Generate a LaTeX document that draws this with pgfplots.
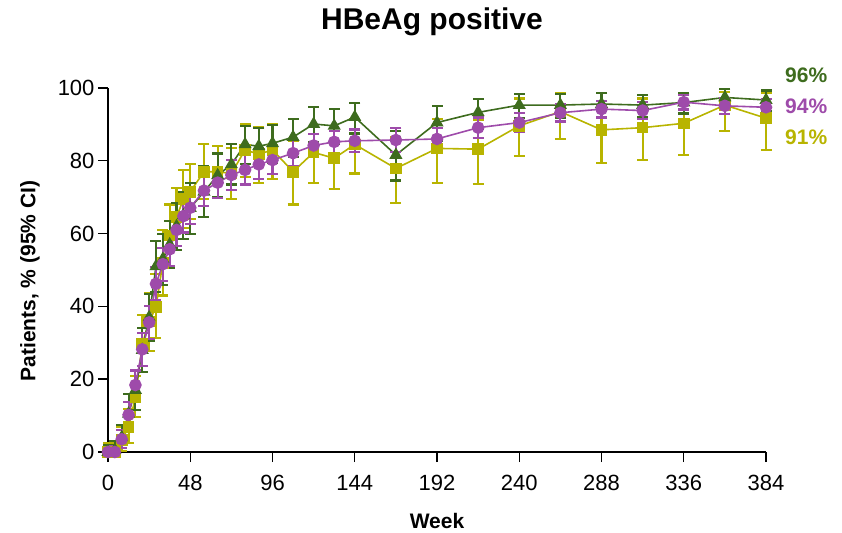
\documentclass[border=0pt]{standalone}
\usepackage{pgfplots}
\pgfplotsset{compat=1.18}
\usepackage{fontspec}
\setmainfont{Liberation Sans}

\definecolor{grn}{RGB}{62,108,30}
\definecolor{prp}{RGB}{158,75,170}
\definecolor{yel}{RGB}{184,180,0}

% week, value, CI upper (+), CI lower (-)
\pgfplotstableread{
w y ep em
0 0 2.5 0
4 0 2.5 0
8 3.3 3.5 3.0
12 6.9 5 4.5
16 15.0 6 5.5
20 29.6 8 7.5
24 35.8 8 8
28 39.8 9 8.5
32 52.0 9 9
36 59.5 8.5 8.5
40 64.5 8 8
44 69.5 8 8
48 71.5 7.5 7.5
56 77.0 7.5 7.5
64 77.0 7 7
72 76.5 7 7
80 83.0 7.0 7.5
88 81.8 7.5 8
96 83.0 7 8
108 77.0 8.5 9
120 82.3 7 8.5
132 80.7 7.5 8.5
144 84.5 7 8
168 77.9 8.5 9.5
192 83.4 8 9.5
216 83.2 8 9.5
240 89.6 7.5 8.3
264 93.5 5 7.5
288 88.5 8 9
312 89.1 8 9
336 90.3 8 8.7
360 95.3 3.5 7
384 91.7 7 8.7
}\yeldata

\pgfplotstableread{
w y ep em
0 0 2 0
4 0.5 2.5 0.5
8 4 3.5 3
12 10.5 5.5 5
16 17 5.5 5.5
20 28 6 6
24 37 6.5 6.5
28 51 7 7
32 53 7 7
36 57 6.5 6.5
40 62 6.5 6.5
44 65 6.5 6.5
48 67 7 7
56 71.5 7 7
64 76 6 6
72 79 5.5 5.5
80 84.5 5 5.5
88 84 5 5.5
96 84.8 5 5.5
108 86.5 5 5.5
120 90.1 4.6 5
132 89.6 4.6 5
144 92.0 4 4.5
168 81.6 6.5 7
192 90.5 4.5 5
216 93.3 3.7 4.5
240 95.3 3 3.5
264 95.3 3 3.5
288 95.6 3 3.5
312 95.3 2.8 3.2
336 96.0 2.7 3
360 97.4 2.3 2.8
384 96.7 2.6 3
}\grndata

\pgfplotstableread{
w y ep em
0 0 1 0
4 0 1.5 0
8 3.5 2.5 2.5
12 10.2 3.5 3.5
16 18.4 4 4
20 28.2 4.5 4.5
24 35.6 4.5 4.5
28 46.2 4.5 4.5
32 51.6 4.5 4.5
36 55.7 4.5 4.5
40 61.0 4.5 4.5
44 64.8 4.5 4.5
48 67.1 4.5 4.5
56 71.8 4.3 4.3
64 74.0 4.2 4.2
72 76.1 4 4
80 77.5 4 4
88 79.0 4 4
96 80.2 3.8 3.8
108 82.1 3.5 3.5
120 84.2 3.2 3.2
132 85.2 3.1 3.1
144 85.5 3.1 3.1
168 85.7 3.2 3.2
192 86.0 3 3
216 89.1 2.8 2.8
240 90.5 2.7 2.7
264 93.2 2.4 2.4
288 94.2 2.3 2.3
312 93.8 2.4 2.4
336 96.1 2 2
360 95.1 2.2 2.2
384 94.7 2.3 2.3
}\prpdata

% CI bars: thick vertical line with a horizontal cap at each end
\pgfplotsset{
    cibars/.style={
        error bars/.cd,
        y dir=both, y explicit,
        draw error bar/.code 2 args={%
            \draw[line width=2.1pt] ##1 -- ##2
                node[pos=1, sloped, allow upside down, inner sep=0pt, outer sep=0pt]
                {\tikz\draw[line width=2.1pt] (0pt,-5.5pt) -- (0pt,5.5pt);};
        },
    },
}

\begin{document}
\begin{tikzpicture}
\useasboundingbox (0,0) rectangle (842pt,532pt);
\begin{axis}[
    at={(108pt,80pt)}, anchor=south west,
    scale only axis, width=658pt, height=364pt,
    xmin=0, xmax=384, ymin=0, ymax=100,
    axis x line=bottom, axis y line=left,
    axis line style={-, line width=1.4pt},
    xtick={0,48,...,384}, ytick={0,20,...,100},
    tick align=outside, major tick length=10pt,
    tick style={line width=1.4pt, black},
    tick label style={font=\fontsize{22}{26}\selectfont},
    xticklabel style={yshift=-10pt},
    /pgf/number format/assume math mode=true,
    clip=false,
]
\addplot[yel, line width=1.6pt, mark=square*, mark size=5pt, cibars]
    table[x=w, y=y, y error plus=ep, y error minus=em] {\yeldata};
\addplot[grn, line width=1.6pt, mark=triangle*, mark size=6pt, cibars]
    table[x=w, y=y, y error plus=ep, y error minus=em] {\grndata};
\addplot[prp, line width=1.6pt, mark=*, mark size=5.5pt, cibars]
    table[x=w, y=y, y error plus=ep, y error minus=em] {\prpdata};

\node[anchor=west, inner sep=0pt, text=grn, font=\bfseries\fontsize{21}{25}\selectfont]
    at (axis cs:384,103.6) [xshift=19pt] {96\%};
\node[anchor=west, inner sep=0pt, text=prp, font=\bfseries\fontsize{21}{25}\selectfont]
    at (axis cs:384,95.1) [xshift=19pt] {94\%};
\node[anchor=west, inner sep=0pt, text=yel, font=\bfseries\fontsize{21}{25}\selectfont]
    at (axis cs:384,86.5) [xshift=19pt] {91\%};
\end{axis}
\node[anchor=north, inner sep=0pt, font=\bfseries\fontsize{30}{36}\selectfont]
    at (432pt,524pt) {HBeAg positive};
\node[anchor=north, inner sep=0pt, font=\bfseries\fontsize{21}{25}\selectfont]
    at (437pt,19pt) {Week};
\node[rotate=90, inner sep=0pt, font=\bfseries\fontsize{21}{25}\selectfont]
    at (30pt,251pt) {Patients, \% (95\% CI)};
\end{tikzpicture}
\end{document}
